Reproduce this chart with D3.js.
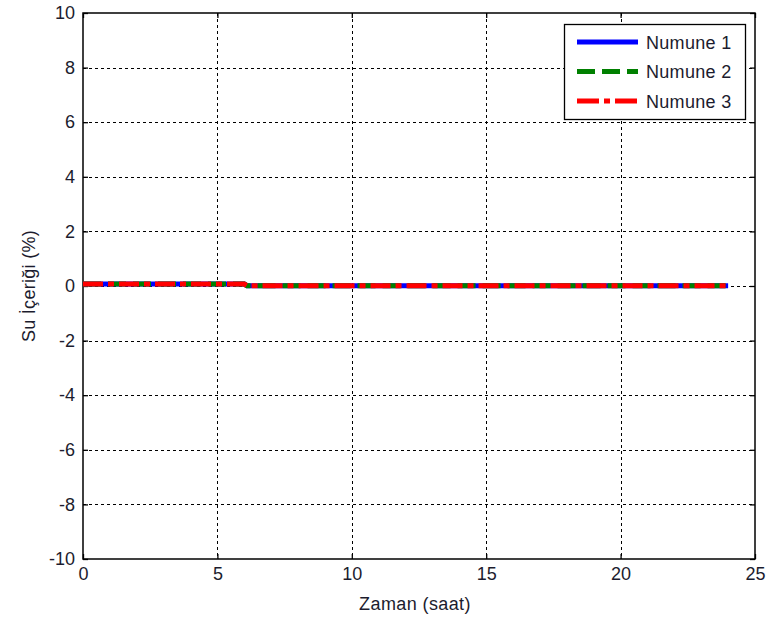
<!DOCTYPE html>
<html>
<head>
<meta charset="utf-8">
<script src="https://cdn.jsdelivr.net/npm/d3@7"></script>
<style>
  html, body { margin: 0; padding: 0; background: #fff; }
  svg { display: block; }
  text { font-family: "Liberation Sans", Arial, sans-serif; fill: #1c1c2e; }
</style>
</head>
<body>
<svg id="chart" width="767" height="622"></svg>
<script>
// Water content (%) over time (hours) for three samples
const timeHours = [0, 6, 6.1, 24];
const numune1 = [0.07, 0.07, 0.01, 0.01];
const numune2 = [0.07, 0.07, 0.01, 0.01];
const numune3 = [0.07, 0.07, 0.01, 0.01];
const seriesNames = ["Numune 1", "Numune 2", "Numune 3"];
const xTicks = [0, 5, 10, 15, 20, 25];
const yTicks = [-10, -8, -6, -4, -2, 0, 2, 4, 6, 8, 10];

const svg = d3.select("#chart");
const plotL = 83, plotR = 755, plotT = 13, plotB = 559;
const fontPx = "18px";

const x = d3.scaleLinear().domain([0, 25]).range([plotL, plotR]);
const y = d3.scaleLinear().domain([-10, 10]).range([plotB, plotT]);
const plainFmt = d => String(d);   // hyphen-minus, as in the labels

// grid
const grid = svg.append("g").attr("stroke", "#000").attr("stroke-width", 1)
  .attr("stroke-dasharray", "3,3").attr("shape-rendering", "crispEdges");
grid.selectAll("line.gx").data(xTicks.slice(1, -1)).join("line")
  .attr("x1", d => Math.round(x(d)) + 0.5).attr("x2", d => Math.round(x(d)) + 0.5)
  .attr("y1", plotT).attr("y2", plotB);
grid.selectAll("line.gy").data(yTicks.slice(1, -1)).join("line")
  .attr("y1", d => Math.round(y(d)) + 0.5).attr("y2", d => Math.round(y(d)) + 0.5)
  .attr("x1", plotL).attr("x2", plotR);

// axes with inward ticks on all four sides
const tickLen = 5;
const axB = svg.append("g").attr("transform", `translate(0,${plotB})`)
  .call(d3.axisBottom(x).tickValues(xTicks).tickFormat(plainFmt).tickSizeInner(-tickLen).tickSizeOuter(0).tickPadding(8));
const axT = svg.append("g").attr("transform", `translate(0,${plotT})`)
  .call(d3.axisTop(x).tickValues(xTicks).tickSizeInner(-tickLen).tickSizeOuter(0).tickFormat(""));
const axL = svg.append("g").attr("transform", `translate(${plotL},0)`)
  .call(d3.axisLeft(y).tickValues(yTicks).tickFormat(plainFmt).tickSizeInner(-tickLen).tickSizeOuter(0).tickPadding(8));
const axR = svg.append("g").attr("transform", `translate(${plotR},0)`)
  .call(d3.axisRight(y).tickValues(yTicks).tickSizeInner(-tickLen).tickSizeOuter(0).tickFormat(""));
[axB, axT, axL, axR].forEach(a => {
  a.select(".domain").remove();
  a.selectAll("line").attr("stroke", "#000").attr("stroke-width", 1.3);
  a.selectAll("text").style("font-size", fontPx).attr("fill", "#1c1c2e");
});

svg.append("rect").attr("x", plotL).attr("y", plotT)
  .attr("width", plotR - plotL).attr("height", plotB - plotT)
  .attr("fill", "none").attr("stroke", "#000").attr("stroke-width", 1.5);

// series lines
const styles = [
  { color: "#0000ff", dash: null },
  { color: "#008000", dash: "18,7" },
  { color: "#ff0000", dash: "20,5,6,5" }
];
const allSeries = [numune1, numune2, numune3];
const line = d3.line().x((d, i) => x(timeHours[i])).y(d => y(d));
allSeries.forEach((vals, k) => {
  svg.append("path").datum(vals)
    .attr("d", line)
    .attr("fill", "none")
    .attr("stroke", styles[k].color)
    .attr("stroke-width", 5)
    .attr("stroke-dasharray", styles[k].dash);
});

// legend
const lg = svg.append("g");
lg.append("rect").attr("x", 564.5).attr("y", 24.5).attr("width", 181).attr("height", 95)
  .attr("fill", "#fff").attr("stroke", "#000").attr("stroke-width", 1.3);
seriesNames.forEach((name, k) => {
  const ly = 42 + k * 29.5;
  lg.append("line").attr("x1", 577).attr("x2", 638).attr("y1", ly).attr("y2", ly)
    .attr("stroke", styles[k].color).attr("stroke-width", 5)
    .attr("stroke-dasharray", k === 2 ? "22,5,6,5" : styles[k].dash);
  lg.append("text").attr("x", 646).attr("y", ly + 6.5)
    .style("font-size", fontPx).style("letter-spacing", "0.3px").text(name);
});

// axis titles
svg.append("text").attr("x", (plotL + plotR) / 2 - 4).attr("y", 610)
  .attr("text-anchor", "middle").style("font-size", fontPx).style("letter-spacing", "0.4px")
  .text("Zaman (saat)");
svg.append("text").attr("transform", `translate(35,${(plotT + plotB) / 2}) rotate(-90)`)
  .attr("text-anchor", "middle").style("font-size", fontPx).style("letter-spacing", "0.3px")
  .text("Su İçeriği (%)");
</script>
</body>
</html>
